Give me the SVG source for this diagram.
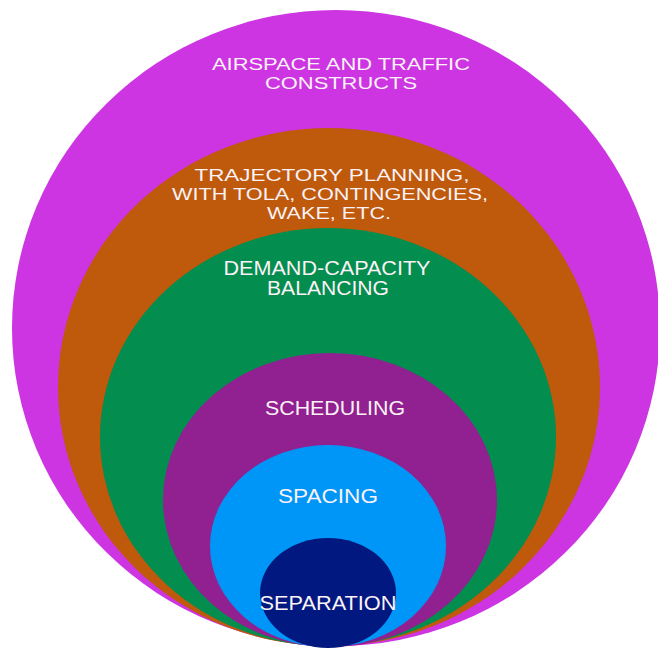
<svg xmlns="http://www.w3.org/2000/svg" width="658" height="655" viewBox="0 0 658 655">
  <style>
    .lbl { font-family: "Liberation Sans", Arial, sans-serif; font-size: 20px; fill: #FAF2F6; text-anchor: middle; }
    .tight { font-size: 16.5px; }
  </style>
  <rect width="658" height="655" fill="#FFFFFF"/>
  <!-- nested layers, all resting on a common bottom point -->
  <g id="airspace">
    <ellipse cx="336" cy="328" rx="324" ry="318" fill="#CD35E2"/>
    <text class="lbl tight" x="341" y="70" textLength="258" lengthAdjust="spacingAndGlyphs">AIRSPACE AND TRAFFIC</text>
    <text class="lbl tight" x="341" y="89" textLength="152" lengthAdjust="spacingAndGlyphs">CONSTRUCTS</text>
  </g>
  <g id="trajectory">
    <ellipse cx="329" cy="387" rx="271" ry="259" fill="#BF590C"/>
    <text class="lbl tight" x="332" y="181" textLength="275" lengthAdjust="spacingAndGlyphs">TRAJECTORY PLANNING,</text>
    <text class="lbl tight" x="330" y="200" textLength="316" lengthAdjust="spacingAndGlyphs">WITH TOLA, CONTINGENCIES,</text>
    <text class="lbl tight" x="329" y="219" textLength="124" lengthAdjust="spacingAndGlyphs">WAKE, ETC.</text>
  </g>
  <g id="demand-capacity">
    <ellipse cx="328" cy="437" rx="228" ry="209" fill="#038D4E"/>
    <text class="lbl" x="327" y="275" textLength="207" lengthAdjust="spacingAndGlyphs">DEMAND-CAPACITY</text>
    <text class="lbl" x="328" y="295" textLength="122" lengthAdjust="spacingAndGlyphs">BALANCING</text>
  </g>
  <g id="scheduling">
    <ellipse cx="330" cy="500" rx="167" ry="147" fill="#912090"/>
    <text class="lbl" x="335" y="415" textLength="140" lengthAdjust="spacingAndGlyphs">SCHEDULING</text>
  </g>
  <g id="spacing">
    <ellipse cx="328" cy="546" rx="118" ry="101" fill="#0096F8"/>
    <text class="lbl" x="328" y="503" textLength="100" lengthAdjust="spacingAndGlyphs">SPACING</text>
  </g>
  <g id="separation">
    <ellipse cx="328" cy="593" rx="68" ry="55" fill="#00187F"/>
    <text class="lbl" x="328" y="610" textLength="137" lengthAdjust="spacingAndGlyphs">SEPARATION</text>
  </g>
</svg>
